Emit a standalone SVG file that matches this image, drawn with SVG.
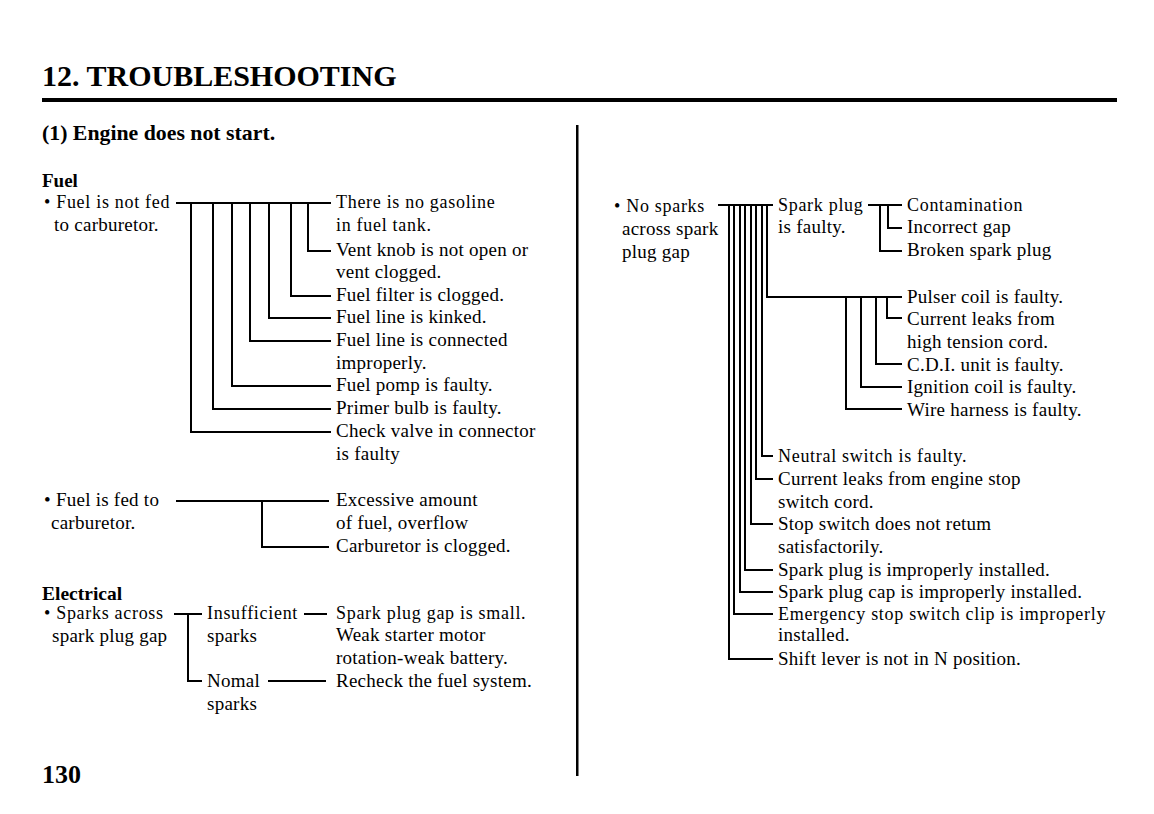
<svg xmlns="http://www.w3.org/2000/svg" width="1154" height="814" viewBox="0 0 1154 814">
<style>
text{font-family:"Liberation Serif","Times New Roman",serif;fill:#000}
.t{font-size:19px;letter-spacing:0.25px}
.s{font-size:18px;letter-spacing:0.7px}
.h{font-weight:bold}
#connectors path,#connectors line{stroke:#000;stroke-width:2;fill:none}
</style>
<rect width="1154" height="814" fill="#fff"/>
<g id="header">
<text class="h" x="42" y="86" font-size="30">12. TROUBLESHOOTING</text>
<rect x="42" y="98" width="1075" height="4" fill="#000"/>
<text class="h" x="42" y="140" font-size="21.8">(1) Engine does not start.</text>
<rect x="576" y="125" width="2.5" height="651" fill="#000"/>
<text class="h" x="42" y="783" font-size="26">130</text>
</g>
<g id="connectors">
<!-- fuel not fed -->
<line x1="176" y1="203" x2="331" y2="203"/>
<path d="M308 203V251H331"/>
<path d="M291 203V296H331"/>
<path d="M269 203V318H331"/>
<path d="M250 203V341H331"/>
<path d="M232 203V386H331"/>
<path d="M213 203V409H331"/>
<path d="M191 203V432H331"/>
<!-- fuel fed -->
<line x1="176" y1="501" x2="329" y2="501"/>
<path d="M262 501V547H329"/>
<!-- electrical -->
<line x1="174" y1="614" x2="202" y2="614"/>
<path d="M188 614V681H202"/>
<line x1="304" y1="614" x2="327" y2="614"/>
<line x1="268" y1="681" x2="326" y2="681"/>
<!-- no sparks -->
<line x1="718" y1="205" x2="773" y2="205"/>
<path d="M767 205V297H902"/>
<path d="M762 205V456H773"/>
<path d="M756 205V479H773"/>
<path d="M751 205V524H773"/>
<path d="M745 205V570H773"/>
<path d="M740 205V592H773"/>
<path d="M734 205V614H773"/>
<path d="M729 205V659H773"/>
<!-- spark plug faulty -->
<line x1="868" y1="205" x2="902" y2="205"/>
<path d="M888 205V228H902"/>
<path d="M880 205V251H902"/>
<!-- pulser group -->
<path d="M887 297V318H902"/>
<path d="M876 297V364H902"/>
<path d="M861 297V387H902"/>
<path d="M846 297V409H902"/>
</g>
<g id="fuel-heading"><text class="h" x="42" y="187" font-size="19">Fuel</text></g>
<g id="fuel-not-fed">
<text class="s" x="44" y="208">• Fuel is not fed</text>
<text class="t" x="54" y="231">to carburetor.</text>
</g>
<g id="fuel-causes">
<text class="s" x="336" y="208">There is no gasoline</text>
<text class="s" x="336" y="231">in fuel tank.</text>
<text class="t" x="336" y="256">Vent knob is not open or</text>
<text class="t" x="336" y="278">vent clogged.</text>
<text class="t" x="336" y="301">Fuel filter is clogged.</text>
<text class="t" x="336" y="323">Fuel line is kinked.</text>
<text class="t" x="336" y="346">Fuel line is connected</text>
<text class="t" x="336" y="369">improperly.</text>
<text class="t" x="336" y="391">Fuel pomp is faulty.</text>
<text class="t" x="336" y="414">Primer bulb is faulty.</text>
<text class="t" x="336" y="437">Check valve in connector</text>
<text class="t" x="336" y="460">is faulty</text>
</g>
<g id="fuel-fed">
<text class="t" x="44" y="506">• Fuel is fed to</text>
<text class="t" x="51" y="529">carburetor.</text>
</g>
<g id="fuel-fed-causes">
<text class="t" x="336" y="506">Excessive amount</text>
<text class="t" x="336" y="529">of fuel, overflow</text>
<text class="t" x="336" y="552">Carburetor is clogged.</text>
</g>
<g id="electrical-heading"><text class="h" x="42" y="600" font-size="19.5">Electrical</text></g>
<g id="sparks-across">
<text class="s" x="44" y="619">• Sparks across</text>
<text class="t" x="52" y="642">spark plug gap</text>
</g>
<g id="insufficient"><text class="s" x="207" y="619">Insufficient</text><text class="t" x="207" y="642">sparks</text></g>
<g id="insufficient-causes">
<text class="s" x="336" y="619">Spark plug gap is small.</text>
<text class="t" x="336" y="641">Weak starter motor</text>
<text class="t" x="336" y="664">rotation-weak battery.</text>
</g>
<g id="nomal"><text class="t" x="207" y="687">Nomal</text><text class="t" x="207" y="710">sparks</text></g>
<g id="recheck"><text class="t" x="336" y="687">Recheck the fuel system.</text></g>
<g id="no-sparks">
<text class="s" x="614" y="212">• No sparks</text>
<text class="t" x="622" y="235">across spark</text>
<text class="t" x="622" y="258">plug gap</text>
</g>
<g id="spark-plug-faulty">
<text class="s" x="778" y="211">Spark plug</text>
<text class="t" x="778" y="233">is faulty.</text>
</g>
<g id="plug-causes">
<text class="s" x="907" y="211">Contamination</text>
<text class="t" x="907" y="233">Incorrect gap</text>
<text class="t" x="907" y="256">Broken spark plug</text>
</g>
<g id="ignition-causes">
<text class="t" x="907" y="303">Pulser coil is faulty.</text>
<text class="t" x="907" y="325">Current leaks from</text>
<text class="t" x="907" y="348">high tension cord.</text>
<text class="t" x="907" y="371">C.D.I. unit is faulty.</text>
<text class="t" x="907" y="393">Ignition coil is faulty.</text>
<text class="t" x="907" y="416">Wire harness is faulty.</text>
</g>
<g id="other-causes">
<text class="s" x="778" y="462">Neutral switch is faulty.</text>
<text class="t" x="778" y="485">Current leaks from engine stop</text>
<text class="t" x="778" y="508">switch cord.</text>
<text class="t" x="778" y="530">Stop switch does not retum</text>
<text class="t" x="778" y="553">satisfactorily.</text>
<text class="t" x="778" y="576">Spark plug is improperly installed.</text>
<text class="t" x="778" y="598">Spark plug cap is improperly installed.</text>
<text class="s" x="778" y="620">Emergency stop switch clip is improperly</text>
<text class="t" x="778" y="641">installed.</text>
<text class="t" x="778" y="665">Shift lever is not in N position.</text>
</g>
</svg>
